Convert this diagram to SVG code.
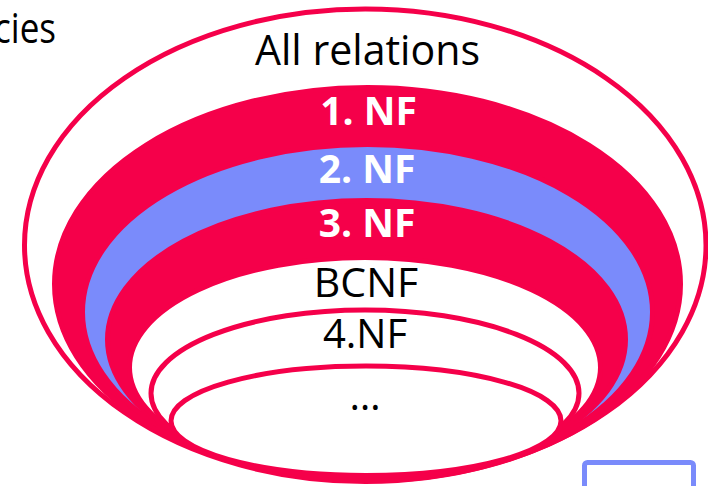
<svg xmlns="http://www.w3.org/2000/svg" width="708" height="486" viewBox="0 0 708 486">
  <style>
    .ring { stroke: #F5004A; stroke-width: 5; }
    .red { fill: #F5004A; }
    .blue { fill: #7A8BFB; }
    .white { fill: #FFFFFF; }
    .lbl { font-family: "Open Sans", "Noto Sans", "Liberation Sans", sans-serif; text-anchor: middle; }
    .dark { fill: #000000; font-size: 42px; }
    .bold { fill: #FFFFFF; font-size: 39px; font-weight: bold; }
  </style>
  <rect width="708" height="486" fill="#FFFFFF"/>
  <text x="-6" y="43" class="lbl dark" style="text-anchor:start" textLength="62" lengthAdjust="spacingAndGlyphs">cies</text>

  <g id="all-relations">
    <ellipse class="ring white" cx="365.25" cy="245.25" rx="340.75" ry="236.25"/>
    <text x="367.5" y="65" class="lbl dark" textLength="225" lengthAdjust="spacingAndGlyphs">All relations</text>
  </g>
  <g id="nf1">
    <ellipse class="ring red" cx="367.5" cy="284" rx="313" ry="196.5"/>
  </g>
  <g id="nf2">
    <ellipse class="ring blue" cx="367.5" cy="312" rx="285" ry="167.5"/>
  </g>
  <g id="nf3">
    <ellipse class="ring red" cx="366.5" cy="339.5" rx="259" ry="139"/>
  </g>
  <g id="bcnf">
    <ellipse class="ring white" cx="365" cy="367.5" rx="235.5" ry="110"/>
  </g>
  <g id="nf4">
    <ellipse class="ring white" cx="365" cy="393.25" rx="214" ry="83.25"/>
  </g>
  <g id="nf-more">
    <ellipse class="ring white" cx="366" cy="420.75" rx="195" ry="54.75"/>
  </g>
  <g id="labels">
    <text x="368.5" y="125" class="lbl bold">1. NF</text>
    <text x="367" y="183" class="lbl bold">2. NF</text>
    <text x="367" y="237" class="lbl bold">3. NF</text>
    <text x="366" y="297" class="lbl dark" style="font-size:41px">BCNF</text>
    <text x="365" y="348" class="lbl dark" style="font-size:40px">4.NF</text>
    <text x="365" y="410" class="lbl dark" style="font-size:40px">…</text>
  </g>
  <g id="connectors"/>
  <g id="box">
    <rect x="584.5" y="462.5" width="109" height="40" rx="3" fill="none" stroke="#7A8BFB" stroke-width="5"/>
  </g>
</svg>
